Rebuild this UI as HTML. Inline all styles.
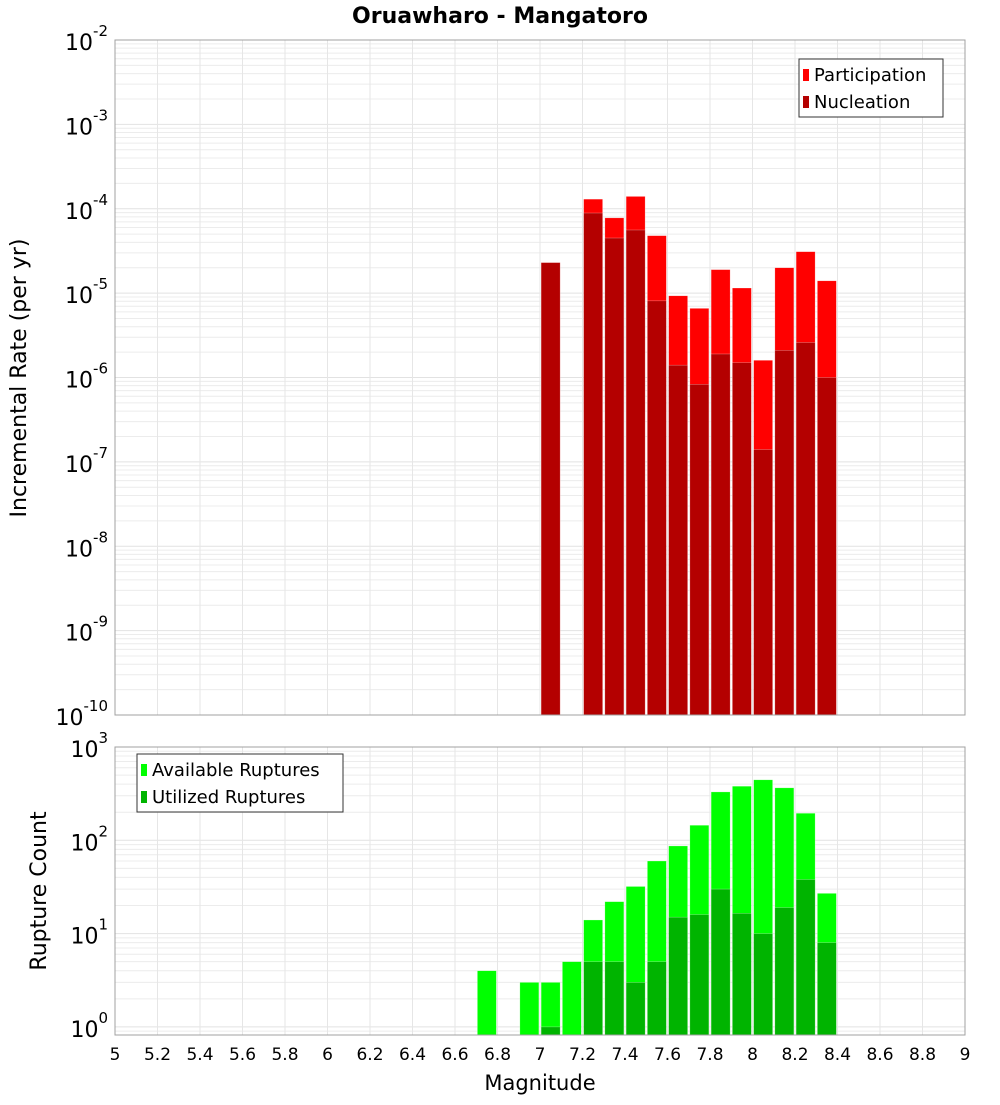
<!DOCTYPE html>
<html><head><meta charset="utf-8"><style>
body{margin:0;background:#fff}
svg text{font-family:"DejaVu Sans","Liberation Sans",sans-serif}
</style></head><body>
<svg id="c" width="1000" height="1100" xmlns="http://www.w3.org/2000/svg"></svg>
<script>
const mags=[6.75,6.95,7.05,7.15,7.25,7.35,7.45,7.55,7.65,7.75,7.85,7.95,8.05,8.15,8.25,8.35];
const partRate=[null,null,2.3e-5,null,1.3e-4,7.8e-5,1.4e-4,4.8e-5,9.3e-6,6.6e-6,1.9e-5,1.15e-5,1.6e-6,2.0e-5,3.1e-5,1.4e-5];
const nuclRate=[null,null,2.3e-5,null,8.9e-5,4.5e-5,5.6e-5,8.1e-6,1.4e-6,8.3e-7,1.9e-6,1.5e-6,1.4e-7,2.1e-6,2.6e-6,1.0e-6];
const availCount=[4,3,3,5,14,22,32,60,87,145,330,380,445,365,195,27];
const usedCount=[null,null,1,null,5,5,3,5,15,16,30,16.5,10,19,38,8];
const xTicks=[5,5.2,5.4,5.6,5.8,6,6.2,6.4,6.6,6.8,7,7.2,7.4,7.6,7.8,8,8.2,8.4,8.6,8.8,9];
const topExp=[-2,-3,-4,-5,-6,-7,-8,-9,-10];
const botExp=[3,2,1,0];

const svg=document.getElementById('c');const NS='http://www.w3.org/2000/svg';
function el(t,a,p){const e=document.createElementNS(NS,t);for(const k in a)e.setAttribute(k,a[k]);(p||svg).appendChild(e);return e;}
const X0=115,X1=965;
const xs=m=>X0+(m-5)/4*(X1-X0);
const T0=40,T1=715; const yTop=v=>T0+(-2-Math.log10(v))*(T1-T0)/8;
const B0=747,B1=1035,BD=93.3; const yBot=v=>B0+(3-Math.log10(v))*BD;

function panel(y0,y1,yf,lo,hi,name){
  const g=el('g',{});
  el('rect',{x:X0,y:y0,width:X1-X0,height:y1-y0,fill:'#fff'},g);
  for(let e=lo;e<=hi;e++)for(let k=1;k<10;k++){const y=yf(k*Math.pow(10,e));if(y<y0||y>y1)continue;
    el('line',{x1:X0,x2:X1,y1:y,y2:y,stroke:k==1?'#e2e2e2':'#ececec','stroke-width':1},g);}
  xTicks.forEach(t=>{const x=xs(t);el('line',{x1:x,x2:x,y1:y0,y2:y1,stroke:'#e6e6e6'},g);});
  return g;
}
const gt=panel(T0,T1,yTop,-10,-3,'top-plot');
const gb=panel(B0,B1,yBot,-1,2,'bottom-plot');
const bw=19;
function bars(g,arr,yf,yb,col,name){arr.forEach((v,i)=>{if(v==null)return;const y=yf(v);
  const r=el('rect',{x:xs(mags[i])-bw/2,y:y,width:bw,height:yb-y,fill:col,stroke:'#ffffff','stroke-opacity':0.5,'stroke-width':0.5},g);
  });}
bars(gt,partRate,yTop,T1,'#ff0000','participation-bar');
bars(gt,nuclRate,yTop,T1,'#b40000','nucleation-bar');
bars(gb,availCount,yBot,B1,'#00ff00','available-bar');
bars(gb,usedCount,yBot,B1,'#00b400','utilized-bar');
[[T0,T1],[B0,B1]].forEach(([a,b])=>el('rect',{x:X0,y:a,width:X1-X0,height:b-a,fill:'none',stroke:'#a0a0a0'}));
function ylab(y,e,name){const t=el('text',{x:108,y:y+10,'text-anchor':'end','font-size':22,fill:'#000'});
  
  t.textContent='10';const s=el('tspan',{dy:-14,'font-size':15},t);s.textContent=String(e);}
topExp.forEach(e=>ylab(yTop(Math.pow(10,e)),e,'y-tick-top'));
botExp.forEach(e=>ylab(yBot(Math.pow(10,e)),e,'y-tick-bottom'));
xTicks.forEach(t=>{const tx=el('text',{x:xs(t),y:1060,'text-anchor':'middle','font-size':17});
  tx.textContent=String(t);});
function txt(s,a,name){const t=el('text',a);t.textContent=s;return t;}
txt('Oruawharo - Mangatoro',{x:500,y:23,'text-anchor':'middle','font-size':22,'font-weight':'bold'},'chart-title');
txt('Magnitude',{x:540,y:1090,'text-anchor':'middle','font-size':21},'x-axis-title');
txt('Incremental Rate (per yr)',{x:0,y:0,'text-anchor':'middle','font-size':22,transform:'translate(26,378) rotate(-90)'},'y-axis-title-top');
txt('Rupture Count',{x:0,y:0,'text-anchor':'middle','font-size':22,transform:'translate(46,891) rotate(-90)'},'y-axis-title-bottom');
function legend(x,y,w,items,name){const g=el('g',{});
  el('rect',{x:x,y:y,width:w,height:58,fill:'#fff',stroke:'#333'},g);
  items.forEach((it,i)=>{el('rect',{x:x+4,y:y+10+i*27,width:6,height:12,fill:it[1]},g);
    const t=el('text',{x:x+15,y:y+22+i*27,'font-size':18},g);t.textContent=it[0];});}
legend(799,59,144,[['Participation','#ff0000'],['Nucleation','#b40000']],'legend-top');
legend(137,754,206,[['Available Ruptures','#00ff00'],['Utilized Ruptures','#00b400']],'legend-bottom');
</script>
</body></html>
